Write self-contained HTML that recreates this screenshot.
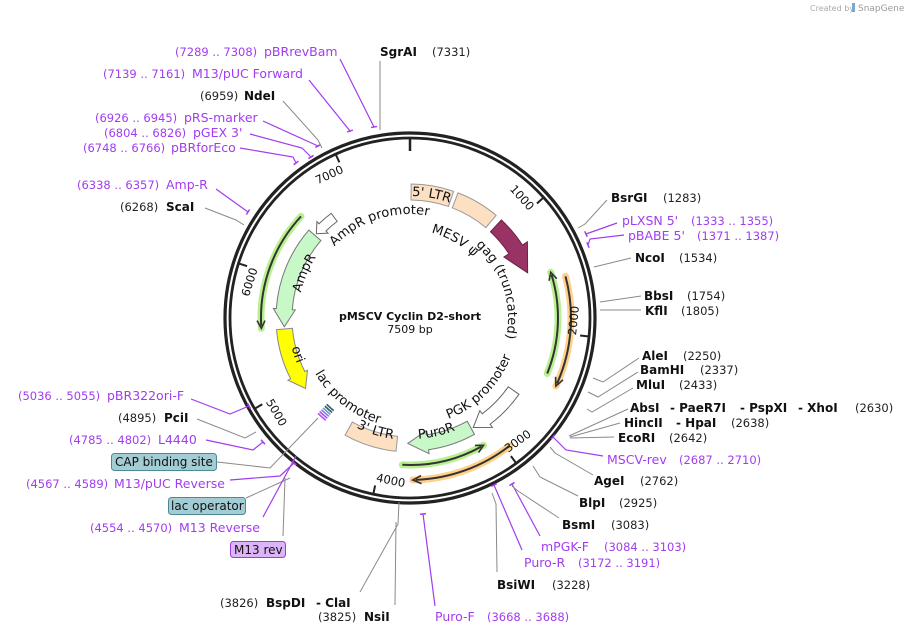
<!DOCTYPE html>
<html><head><meta charset="utf-8"><style>
html,body{margin:0;padding:0;background:#fff;}
svg{display:block;font-family:"DejaVu Sans","Liberation Sans",sans-serif;}
.p{fill:#a23cf0;font-size:11.5px;}
.k{fill:#222;font-size:11.5px;}
.b{fill:#111;font-size:12px;font-weight:bold;}
.g{stroke:#8a8a8a;fill:none;stroke-width:1;}
.pl{stroke:#a23cf0;fill:none;stroke-width:1.2;}
.f{font-size:12px;fill:#111;}
</style></head><body>
<svg id="s" width="907" height="636" viewBox="0 0 907 636" xmlns="http://www.w3.org/2000/svg">
<text x="810" y="11" style="font-size:8px;fill:#aaa">Created by</text>
<rect x="852" y="3" width="3" height="9" fill="#7ac" />
<text x="858" y="11" style="font-size:9px;fill:#999">SnapGene</text>
<g id="feat"></g>
<g id="ring"></g>
<text x="410" y="320" text-anchor="middle" style="font-size:11px;font-weight:bold;fill:#111">pMSCV Cyclin D2-short</text>
<text x="410" y="333" text-anchor="middle" style="font-size:11px;fill:#111">7509 bp</text>

<!-- leader lines -->
<polyline class="g" points="380,61 380,130"/>
<polyline class="pl" points="340,59 374,127"/>
<polyline class="pl" points="309,80 350,131"/>
<polyline class="g" points="283,101 318,140 322,148"/>
<polyline class="pl" points="263,121 318,146"/>
<polyline class="pl" points="250,134 302,148 311,157"/>
<polyline class="pl" points="240,148 293,157 296,163"/>
<polyline class="pl" points="216,189 248,212"/>
<polyline class="g" points="205,208 236,220 244,225"/>
<polyline class="pl" points="191,399 230,414 249,406"/>
<polyline class="g" points="197,419 245,438 256,432"/>
<polyline class="pl" points="206,440 253,450 263,442"/>
<polyline class="g" points="217,462 270,468 318,418"/>
<polyline class="pl" points="230,480 280,476 294,463"/>
<polyline class="g" points="246,498 290,478"/>
<polyline class="pl" points="263,517 296,456"/>
<polyline class="g" points="283,536 285,478"/>
<polyline class="g" points="360,592 398,524 399,502"/>
<polyline class="g" points="395,605 396,522"/>
<polyline class="pl" points="435,606 423,514"/>
<polyline class="g" points="497,572 496,504 492,493"/>
<polyline class="pl" points="522,550 494,485"/>
<polyline class="pl" points="540,536 512,484"/>
<polyline class="g" points="559,518 518,491 512,486"/>
<polyline class="g" points="578,496 540,477 533,466"/>
<polyline class="g" points="593,475 555,453 550,447"/>
<polyline class="pl" points="603,456 566,450 553,437"/>
<polyline class="g" points="614,437 570,438"/>
<polyline class="g" points="620,423 570,437"/>
<polyline class="g" points="628,409 569,436"/>
<polyline class="g" points="633,388 592,412 587,409"/>
<polyline class="g" points="638,372 598,397 588,392"/>
<polyline class="g" points="639,358 603,382 593,378"/>
<polyline class="g" points="641,310 600,310"/>
<polyline class="g" points="641,296 600,302"/>
<polyline class="g" points="631,258 594,267"/>
<polyline class="pl" points="624,235 590,239 588,245"/>
<polyline class="pl" points="617,223 586,234"/>
<polyline class="g" points="607,200 585,224 578,228"/>

<!-- labels left -->
<text class="p" x="175" y="56">(7289 .. 7308)</text><text class="p" x="264" y="56" style="font-size:12.5px">pBRrevBam</text>
<text class="b" x="380" y="56">SgrAI</text><text class="k" x="432" y="56">(7331)</text>
<text class="p" x="103" y="78">(7139 .. 7161)</text><text class="p" x="192" y="78" style="font-size:12.5px">M13/pUC Forward</text>
<text class="k" x="200" y="100">(6959)</text><text class="b" x="244" y="100">NdeI</text>
<text class="p" x="95" y="122">(6926 .. 6945)</text><text class="p" x="184" y="122" style="font-size:12.5px">pRS-marker</text>
<text class="p" x="104" y="137">(6804 .. 6826)</text><text class="p" x="193" y="137" style="font-size:12.5px">pGEX 3'</text>
<text class="p" x="83" y="152">(6748 .. 6766)</text><text class="p" x="171" y="152" style="font-size:12.5px">pBRforEco</text>
<text class="p" x="77" y="189">(6338 .. 6357)</text><text class="p" x="166" y="189" style="font-size:12.5px">Amp-R</text>
<text class="k" x="120" y="211">(6268)</text><text class="b" x="166" y="211">ScaI</text>
<text class="p" x="18" y="400">(5036 .. 5055)</text><text class="p" x="107" y="400" style="font-size:12.5px">pBR322ori-F</text>
<text class="k" x="118" y="422">(4895)</text><text class="b" x="164" y="422">PciI</text>
<text class="p" x="69" y="444">(4785 .. 4802)</text><text class="p" x="158" y="444" style="font-size:12.5px">L4440</text>
<rect x="111.5" y="453.5" width="105" height="17" rx="3" fill="#a3ccd4" stroke="#4d8a96"/>
<text class="f" x="115" y="466">CAP binding site</text>
<text class="p" x="26" y="488">(4567 .. 4589)</text><text class="p" x="114" y="488" style="font-size:12.5px">M13/pUC Reverse</text>
<rect x="168.5" y="497.5" width="77" height="17" rx="3" fill="#a3ccd4" stroke="#4d8a96"/>
<text class="f" x="171" y="510">lac operator</text>
<text class="p" x="90" y="532">(4554 .. 4570)</text><text class="p" x="179" y="532" style="font-size:12.5px">M13 Reverse</text>
<rect x="230.5" y="541.5" width="55" height="16" rx="3" fill="#dcb4f7" stroke="#9a3ce0"/>
<text class="f" x="234" y="554">M13 rev</text>
<text class="k" x="220" y="607">(3826)</text><text class="b" x="266" y="607">BspDI</text><text class="b" x="316" y="607">- ClaI</text>
<text class="k" x="318" y="621">(3825)</text><text class="b" x="364" y="621">NsiI</text>
<!-- bottom -->
<text class="p" x="435" y="621" style="font-size:12.5px">Puro-F</text><text class="p" x="487" y="621">(3668 .. 3688)</text>
<text class="b" x="497" y="589">BsiWI</text><text class="k" x="552" y="589">(3228)</text>
<text class="p" x="524" y="567" style="font-size:12.5px">Puro-R</text><text class="p" x="578" y="567">(3172 .. 3191)</text>
<text class="p" x="541" y="551" style="font-size:12.5px">mPGK-F</text><text class="p" x="604" y="551">(3084 .. 3103)</text>
<text class="b" x="562" y="529">BsmI</text><text class="k" x="611" y="529">(3083)</text>
<text class="b" x="579" y="507">BlpI</text><text class="k" x="619" y="507">(2925)</text>
<text class="b" x="594" y="485">AgeI</text><text class="k" x="640" y="485">(2762)</text>
<text class="p" x="607" y="464" style="font-size:12.5px">MSCV-rev</text><text class="p" x="679" y="464">(2687 .. 2710)</text>
<!-- right -->
<text class="b" x="618" y="442">EcoRI</text><text class="k" x="669" y="442">(2642)</text>
<text class="b" x="624" y="427">HincII</text><text class="b" x="676" y="427">- HpaI</text><text class="k" x="731" y="427">(2638)</text>
<text class="b" x="630" y="412">AbsI</text><text class="b" x="670" y="412">- PaeR7I</text><text class="b" x="740" y="412">- PspXI</text><text class="b" x="798" y="412">- XhoI</text><text class="k" x="855" y="412">(2630)</text>
<text class="b" x="636" y="389">MluI</text><text class="k" x="679" y="389">(2433)</text>
<text class="b" x="640" y="374">BamHI</text><text class="k" x="700" y="374">(2337)</text>
<text class="b" x="642" y="360">AleI</text><text class="k" x="683" y="360">(2250)</text>
<text class="b" x="645" y="315">KflI</text><text class="k" x="681" y="315">(1805)</text>
<text class="b" x="644" y="300">BbsI</text><text class="k" x="687" y="300">(1754)</text>
<text class="b" x="635" y="262">NcoI</text><text class="k" x="679" y="262">(1534)</text>
<text class="p" x="628" y="240" style="font-size:12.5px">pBABE 5'</text><text class="p" x="697" y="240">(1371 .. 1387)</text>
<text class="p" x="622" y="225" style="font-size:12.5px">pLXSN 5'</text><text class="p" x="691" y="225">(1333 .. 1355)</text>
<text class="b" x="611" y="202">BsrGI</text><text class="k" x="663" y="202">(1283)</text>
<defs id="defs"></defs>
<g id="curv"></g>
</svg>
<script>
var cx=410,cy=318,NS="http://www.w3.org/2000/svg";
function pt(r,a){var t=a*Math.PI/180;return [cx+r*Math.sin(t),cy-r*Math.cos(t)];}
function P(p){return p[0].toFixed(2)+","+p[1].toFixed(2);}
function arc(r,a1,a2){var s=pt(r,a1),e=pt(r,a2);var l=Math.abs(a2-a1)>180?1:0;var sw=a2>a1?1:0;return "M"+P(s)+" A"+r+","+r+" 0 "+l+","+sw+" "+P(e);}
function arcTo(r,a1,a2){var e=pt(r,a2);var l=Math.abs(a2-a1)>180?1:0;var sw=a2>a1?1:0;return " A"+r+","+r+" 0 "+l+","+sw+" "+P(e);}
function el(tag,at,par){var e=document.createElementNS(NS,tag);for(var k in at)e.setAttribute(k,at[k]);(par||document.getElementById('feat')).appendChild(e);return e;}
function box(r1,r2,a1,a2,fill,st){var d=arc(r2,a1,a2)+" L"+P(pt(r1,a2))+arcTo(r1,a2,a1)+" Z";el('path',{d:d,fill:fill,stroke:st||'#999','stroke-width':1});}
function arrow(r1,r2,a1,a2,dir,h,w,fill,st){var rm=(r1+r2)/2,d;
 if(dir>0){var b=a2-h;d=arc(r2,a1,b)+" L"+P(pt(r2+w,b))+" L"+P(pt(rm,a2))+" L"+P(pt(r1-w,b))+" L"+P(pt(r1,b))+arcTo(r1,b,a1)+" Z";}
 else{var b=a1+h;d=arc(r2,a2,b)+" L"+P(pt(r2+w,b))+" L"+P(pt(rm,a1))+" L"+P(pt(r1-w,b))+" L"+P(pt(r1,b))+arcTo(r1,b,a2)+" Z";}
 el('path',{d:d,fill:fill,stroke:st||'#777','stroke-width':1});}
function thin(r,a1,a2,dir,halo){var h=3;
 el('path',{d:arc(r,a1,a2),stroke:halo,'stroke-width':7,fill:'none','stroke-linecap':'round'});
 var tip,b; if(dir>0){tip=a2;b=a2-h;}else{tip=a1;b=a1+h;}
 var s=dir>0?arc(r,a1,a2-1):arc(r,a1+1,a2);
 el('path',{d:s,stroke:'#333','stroke-width':2,fill:'none'});
 el('path',{d:"M"+P(pt(r+4,b))+" L"+P(pt(r,tip))+" L"+P(pt(r-4,b)),stroke:'#333','stroke-width':1.6,fill:'none'});}
thin(148,72,112,-1,'#b8f090');
thin(161,75,115,1,'#ffd08a');
thin(147,150,183,-1,'#b8f090');
thin(162,142,179,1,'#ffd08a');
thin(149,266,313,-1,'#b8f090');
box(118,134,0.5,19,'#fde0c2');
box(118,134,21,40,'#fde0c2');
arrow(118,134,43,69,1,12,6,'#993366','#6a2246');
arrow(121,131,312,323,-1,4,3,'#fff','#666');
arrow(118,134,266,311,-1,8,3,'#c8f7c8','#777');
arrow(118,134,236,265,-1,7,3,'#ffff00','#888');
box(119,134,186,209,'#fde0c2');
arrow(120,133,125,150,1,7,4,'#fff','#666');
arrow(118,133,151,181,1,9,4,'#c8f7c8','#777');
var lc=['#2f5d68','#2f5d68','#6fa0b0','#8080e0','#b050f0','#b050f0'];
for(var i=0;i<6;i++){el('path',{d:arc(120+i*2.5,219.5,224),stroke:lc[i],'stroke-width':1.6,fill:'none'});}
var R=document.getElementById('ring');
el('circle',{cx:cx,cy:cy,r:185,fill:'none',stroke:'#222','stroke-width':3.2},R);
el('circle',{cx:cx,cy:cy,r:180,fill:'none',stroke:'#222','stroke-width':2.8},R);
var a0=pt(179,0),a1=pt(167,0);el('line',{x1:a0[0],y1:a0[1],x2:a1[0],y2:a1[1],stroke:'#222','stroke-width':2.5},R);
for(var n=1;n<=7;n++){var a=n*1000/7509*360;var p1=pt(179,a),p2=pt(171,a);
 el('line',{x1:p1[0],y1:p1[1],x2:p2[0],y2:p2[1],stroke:'#222','stroke-width':2},R);
 var rot=a%180; if(rot>90)rot-=180; var tp=pt(164,a-5);
 var t=el('text',{x:tp[0],y:tp[1],'text-anchor':'middle','dominant-baseline':'middle',transform:'rotate('+rot.toFixed(1)+' '+tp[0].toFixed(1)+' '+tp[1].toFixed(1)+')',style:'font-size:11.5px;fill:#111'},R);t.textContent=(n*1000);}
[[374,127],[350,131],[318,146],[311,157],[296,163],[248,212],[249,406],[263,442],[294,463],[423,514],[494,485],[512,484],[553,437],[588,245],[586,234]].forEach(function(q){
 var dx=q[0]-cx,dy=q[1]-cy,L=Math.sqrt(dx*dx+dy*dy),tx=-dy/L*3,ty=dx/L*3;
 el('line',{x1:q[0]-tx,y1:q[1]-ty,x2:q[0]+tx,y2:q[1]+ty,stroke:'#a23cf0','stroke-width':1.5},R);});
var D=document.getElementById('defs'),C=document.getElementById('curv'),id=0;
function ctext(str,r,ac,span,dir,size){var a1=ac-span,a2=ac+span;var d=dir>0?arc(r,a1,a2):arc(r,a2,a1);id++;
 el('path',{id:'cp'+id,d:d,fill:'none'},D);
 var t=el('text',{style:'font-size:'+(size||13)+'px;fill:#111'},C);
 var tp=el('textPath',{href:'#cp'+id,startOffset:'50%','text-anchor':'middle'},t);tp.setAttributeNS('http://www.w3.org/1999/xlink','xlink:href','#cp'+id);tp.textContent=str;}
ctext("5' LTR",122,10,20,1);
ctext("AmpR promoter",104,342,40,1);
ctext("MESV \u03c8",88,30,25,1);
ctext("gag (truncated)",98,72,45,1);
ctext("AmpR",112,293,25,1);
ctext("ori",122,252,20,-1);
ctext("lac promoter",110,218,35,-1);
ctext("3' LTR",122,197,20,-1);
ctext("PuroR",121,167,20,-1);
ctext("PGK promoter",108,135,40,-1);
</script>
</body></html>
